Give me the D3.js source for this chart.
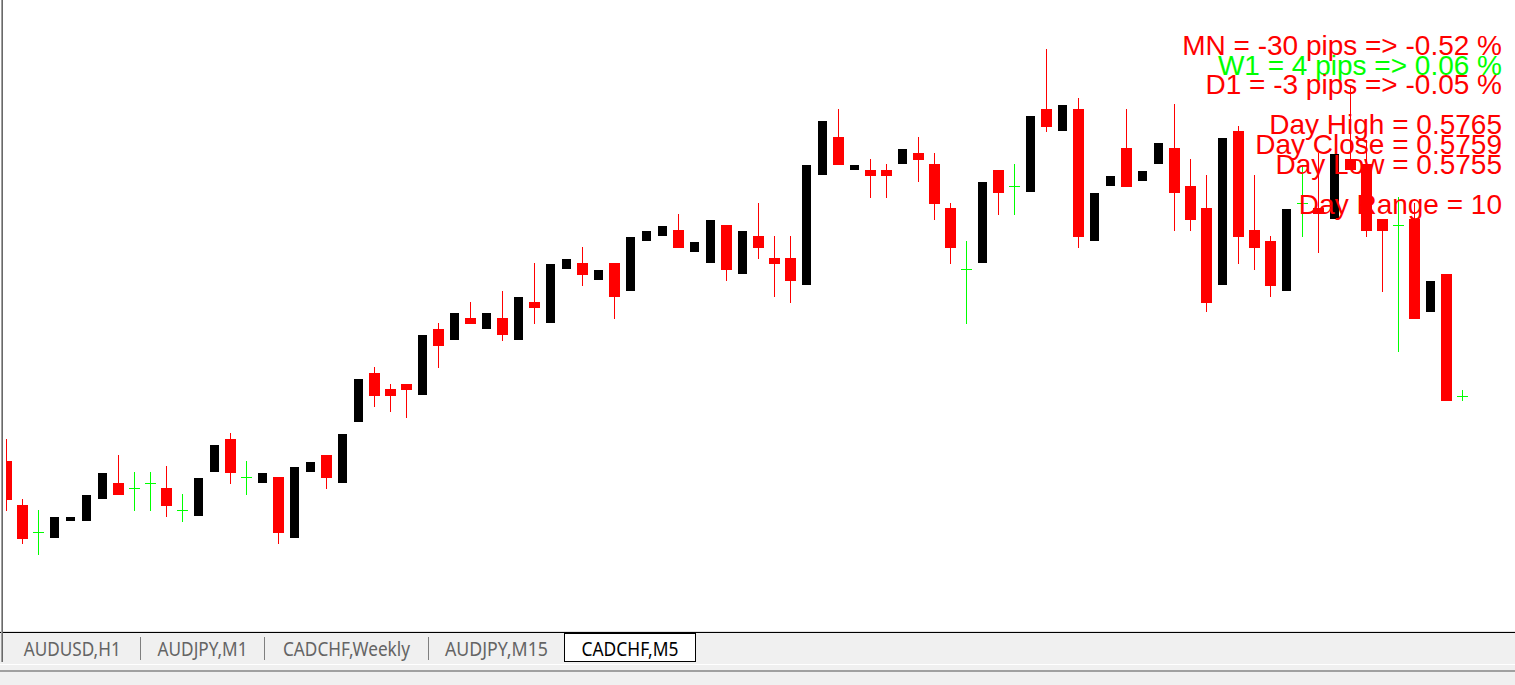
<!DOCTYPE html>
<html>

<head>
  <meta charset="UTF-8" />
  <title>CADCHF,M5</title>
  <style>
    body {
      margin: 0;
      background: #f0f0f0;
      overflow: hidden;
    }

    svg {
      display: block;
    }

    .info {
      font-family: "Liberation Sans", Arial, Helvetica, sans-serif;
      font-size: 28px;
    }

    .tab-label {
      font-family: "Noto Sans", "Open Sans", sans-serif;
      font-size: 19px;
    }
  </style>
  <script src="https://d3js.org/d3.v7.min.js"></script>
</head>

<body>
  <script>
    /* M5 bars, oldest first */
    let opens = [0.57525, 0.57481, 0.57454, 0.57448, 0.57465, 0.57465, 0.57487, 0.57503, 0.57498, 0.57503,
      0.57498, 0.57476, 0.57470, 0.57514, 0.57547, 0.57509, 0.57503, 0.57509, 0.57448, 0.57514,
      0.57531, 0.57503, 0.57564, 0.57613, 0.57597, 0.57602, 0.57591, 0.57657, 0.57646, 0.57668,
      0.57657, 0.57668, 0.57646, 0.57684, 0.57663, 0.57717, 0.57723, 0.57706, 0.57723, 0.57695,
      0.57745, 0.57750, 0.57756, 0.57734, 0.57723, 0.57761, 0.57712, 0.57750, 0.57728, 0.57728,
      0.57701, 0.57811, 0.57849, 0.57816, 0.57816, 0.57816, 0.57822, 0.57833, 0.57822, 0.57778,
      0.57717, 0.57723, 0.57816, 0.57800, 0.57794, 0.57877, 0.57855, 0.57877, 0.57745, 0.57800,
      0.57838, 0.57805, 0.57822, 0.57838, 0.57800, 0.57778, 0.57701, 0.57855, 0.57756, 0.57745,
      0.57695, 0.57783, 0.57778, 0.57767, 0.57827, 0.57822, 0.57767, 0.57761, 0.57767, 0.57674,
      0.57712, 0.57590];
    let highs = [0.57547, 0.57487, 0.57476, 0.57469, 0.57469, 0.57491, 0.57513, 0.57531, 0.57514, 0.57514,
      0.57520, 0.57492, 0.57508, 0.57541, 0.57553, 0.57525, 0.57513, 0.57509, 0.57519, 0.57524,
      0.57531, 0.57552, 0.57607, 0.57619, 0.57602, 0.57602, 0.57651, 0.57663, 0.57673, 0.57684,
      0.57673, 0.57695, 0.57689, 0.57723, 0.57722, 0.57727, 0.57739, 0.57716, 0.57723, 0.57749,
      0.57755, 0.57760, 0.57772, 0.57744, 0.57766, 0.57761, 0.57755, 0.57783, 0.57750, 0.57750,
      0.57821, 0.57865, 0.57877, 0.57821, 0.57827, 0.57822, 0.57837, 0.57849, 0.57833, 0.57783,
      0.57745, 0.57804, 0.57816, 0.57822, 0.57870, 0.57937, 0.57881, 0.57888, 0.57793, 0.57810,
      0.57877, 0.57815, 0.57843, 0.57882, 0.57827, 0.57811, 0.57848, 0.57860, 0.57811, 0.57750,
      0.57777, 0.57821, 0.57833, 0.57832, 0.57900, 0.57846, 0.57767, 0.57789, 0.57783, 0.57705,
      0.57712, 0.57596];
    let lows = [0.57475, 0.57442, 0.57431, 0.57448, 0.57465, 0.57465, 0.57487, 0.57491, 0.57475, 0.57475,
      0.57469, 0.57464, 0.57470, 0.57514, 0.57502, 0.57491, 0.57503, 0.57442, 0.57448, 0.57514,
      0.57497, 0.57503, 0.57564, 0.57579, 0.57574, 0.57568, 0.57591, 0.57618, 0.57646, 0.57662,
      0.57657, 0.57645, 0.57646, 0.57662, 0.57663, 0.57717, 0.57700, 0.57706, 0.57667, 0.57695,
      0.57745, 0.57750, 0.57738, 0.57734, 0.57723, 0.57705, 0.57712, 0.57727, 0.57689, 0.57683,
      0.57701, 0.57811, 0.57821, 0.57816, 0.57788, 0.57788, 0.57822, 0.57804, 0.57766, 0.57722,
      0.57662, 0.57723, 0.57771, 0.57771, 0.57794, 0.57854, 0.57855, 0.57738, 0.57745, 0.57800,
      0.57799, 0.57805, 0.57822, 0.57755, 0.57755, 0.57674, 0.57701, 0.57722, 0.57716, 0.57689,
      0.57695, 0.57749, 0.57733, 0.57767, 0.57816, 0.57749, 0.57694, 0.57634, 0.57667, 0.57674,
      0.57585, 0.57585];
    let closes = [0.57486, 0.57447, 0.57454, 0.57469, 0.57469, 0.57491, 0.57513, 0.57491, 0.57498, 0.57503,
      0.57480, 0.57476, 0.57508, 0.57541, 0.57513, 0.57509, 0.57513, 0.57453, 0.57519, 0.57524,
      0.57508, 0.57552, 0.57607, 0.57590, 0.57590, 0.57596, 0.57651, 0.57640, 0.57673, 0.57662,
      0.57673, 0.57651, 0.57689, 0.57678, 0.57722, 0.57727, 0.57711, 0.57716, 0.57689, 0.57749,
      0.57755, 0.57760, 0.57738, 0.57744, 0.57766, 0.57716, 0.57755, 0.57738, 0.57722, 0.57705,
      0.57821, 0.57865, 0.57821, 0.57821, 0.57810, 0.57810, 0.57837, 0.57826, 0.57782, 0.57738,
      0.57717, 0.57804, 0.57793, 0.57800, 0.57870, 0.57859, 0.57881, 0.57749, 0.57793, 0.57810,
      0.57799, 0.57815, 0.57843, 0.57793, 0.57766, 0.57683, 0.57848, 0.57749, 0.57738, 0.57700,
      0.57777, 0.57783, 0.57772, 0.57832, 0.57816, 0.57755, 0.57755, 0.57761, 0.57667, 0.57705,
      0.57585, 0.57590];

    /* info block */
    let periods = ["MN", "W1", "D1"],
      periodPips = [-30, 4, -3],
      periodPct = [-0.52, 0.06, -0.05];
    let dayLabels = ["Day High", "Day Close", "Day Low"],
      dayValues = [0.5765, 0.5759, 0.5755],
      dayRange = 10;

    /* terminal tabs */
    let tabs = ["AUDUSD,H1", "AUDJPY,M1", "CADCHF,Weekly", "AUDJPY,M15", "CADCHF,M5"],
      activeTab = 4;

    let W = 1515, H = 685,
      chartLeft = 6, chartBottom = 631,
      barStep = 16,
      colors = { up: "#000000", down: "#ff0000", doji: "#00ff00" },
      tabEdges = [4, 140.5, 264.5, 428.5, 564.5, 695.5],
      tabTextW = [97, 90, 127, 103, 97];

    let bars = opens.map((o, i) => ({ i: i, o: o, h: highs[i], l: lows[i], c: closes[i] }));

    let svg = d3.select("body")
      .append("svg")
      .attr("width", W)
      .attr("height", H);

    /* chart background */
    svg.append("rect")
      .attr("width", W)
      .attr("height", chartBottom)
      .attr("fill", "#ffffff");

    svg.append("clipPath")
      .attr("id", "clip")
      .append("rect")
      .attr("x", chartLeft)
      .attr("y", 0)
      .attr("width", W - chartLeft)
      .attr("height", chartBottom);

    let xScale = d3.scaleLinear()
      .domain([0, bars.length - 1])
      .range([6.5, 6.5 + barStep * (bars.length - 1)]);

    let yScale = d3.scaleLinear()
      .domain([d3.min(lows), d3.max(highs)])
      .range([555, 49]);

    let kind = d => d.c > d.o ? "up" : (d.c < d.o ? "down" : "doji");

    let plot = svg.append("g")
      .attr("clip-path", "url(#clip)")
      .attr("shape-rendering", "crispEdges");

    /* wicks (bull bar wicks are white in this template, so skipped) */
    plot.selectAll(".wick")
      .data(bars.filter(d => kind(d) != "up"))
      .enter()
      .append("rect")
      .attr("class", "wick")
      .attr("x", d => xScale(d.i) - 0.5)
      .attr("y", d => yScale(d.h))
      .attr("width", 1)
      .attr("height", d => Math.max(1, yScale(d.l) - yScale(d.h)))
      .attr("fill", d => colors[kind(d)]);

    /* bodies */
    plot.selectAll(".body")
      .data(bars)
      .enter()
      .append("rect")
      .attr("class", "body")
      .attr("x", d => xScale(d.i) - (kind(d) == "up" ? 4.5 : 5.5))
      .attr("y", d => yScale(Math.max(d.o, d.c)))
      .attr("width", d => kind(d) == "up" ? 9 : 11)
      .attr("height", d => Math.max(1, Math.abs(yScale(d.o) - yScale(d.c))))
      .attr("fill", d => colors[kind(d)]);

    /* info text */
    let info = svg.append("g")
      .attr("class", "info")
      .attr("text-anchor", "end");

    info.selectAll(".period")
      .data(periods)
      .enter()
      .append("text")
      .attr("x", 1502)
      .attr("y", (d, i) => 55 + i * 19.5)
      .attr("fill", (d, i) => periodPips[i] >= 0 ? colors.doji : colors.down)
      .text((d, i) => `${d} = ${periodPips[i]} pips => ${periodPct[i].toFixed(2)} %`);

    info.selectAll(".day")
      .data(dayLabels)
      .enter()
      .append("text")
      .attr("x", 1502)
      .attr("y", (d, i) => 134 + i * 20)
      .attr("fill", colors.down)
      .text((d, i) => `${d} = ${dayValues[i].toFixed(4)}`);

    info.append("text")
      .attr("x", 1502)
      .attr("y", 214)
      .attr("fill", colors.down)
      .text(`Day Range = ${dayRange}`);

    /* tab strip */
    let strip = svg.append("g").attr("shape-rendering", "crispEdges");
    strip.append("rect").attr("x", 0).attr("y", 631).attr("width", W).attr("height", 1).attr("fill", "#e3e3e3");
    strip.append("rect").attr("x", 0).attr("y", 632).attr("width", W).attr("height", 1).attr("fill", "#000000");
    strip.append("rect").attr("x", 0).attr("y", 664).attr("width", W).attr("height", 1).attr("fill", "#ffffff");
    strip.append("rect").attr("x", 0).attr("y", 670).attr("width", W).attr("height", 2).attr("fill", "#a0a0a0");

    /* active tab box */
    strip.append("rect")
      .attr("x", tabEdges[activeTab])
      .attr("y", 633)
      .attr("width", tabEdges[activeTab + 1] - tabEdges[activeTab])
      .attr("height", 28.5)
      .attr("fill", "#ffffff")
      .attr("stroke", "#000000")
      .attr("stroke-width", 1);
    strip.append("rect")
      .attr("x", tabEdges[activeTab] + 0.5)
      .attr("y", 632)
      .attr("width", tabEdges[activeTab + 1] - tabEdges[activeTab] - 1)
      .attr("height", 1)
      .attr("fill", "#000000");

    /* separators between inactive tabs */
    strip.selectAll(".sep")
      .data(tabEdges.slice(1, activeTab))
      .enter()
      .append("rect")
      .attr("x", d => d - 0.5)
      .attr("y", 637)
      .attr("width", 1)
      .attr("height", 23)
      .attr("fill", "#7f7f7f");

    svg.selectAll(".tab-label")
      .data(tabs)
      .enter()
      .append("text")
      .attr("class", "tab-label")
      .attr("x", (d, i) => (tabEdges[i] + tabEdges[i + 1]) / 2)
      .attr("y", 656)
      .attr("text-anchor", "middle")
      .attr("textLength", (d, i) => tabTextW[i])
      .attr("lengthAdjust", "spacingAndGlyphs")
      .attr("fill", (d, i) => i == activeTab ? "#000000" : "#646464")
      .text(d => d);

    /* left window border */
    svg.append("rect").attr("x", 1).attr("y", 0).attr("width", 1).attr("height", 662).attr("fill", "#a0a0a0");
    svg.append("rect").attr("x", 2).attr("y", 0).attr("width", 1).attr("height", 662).attr("fill", "#696969");
  </script>
</body>

</html>
